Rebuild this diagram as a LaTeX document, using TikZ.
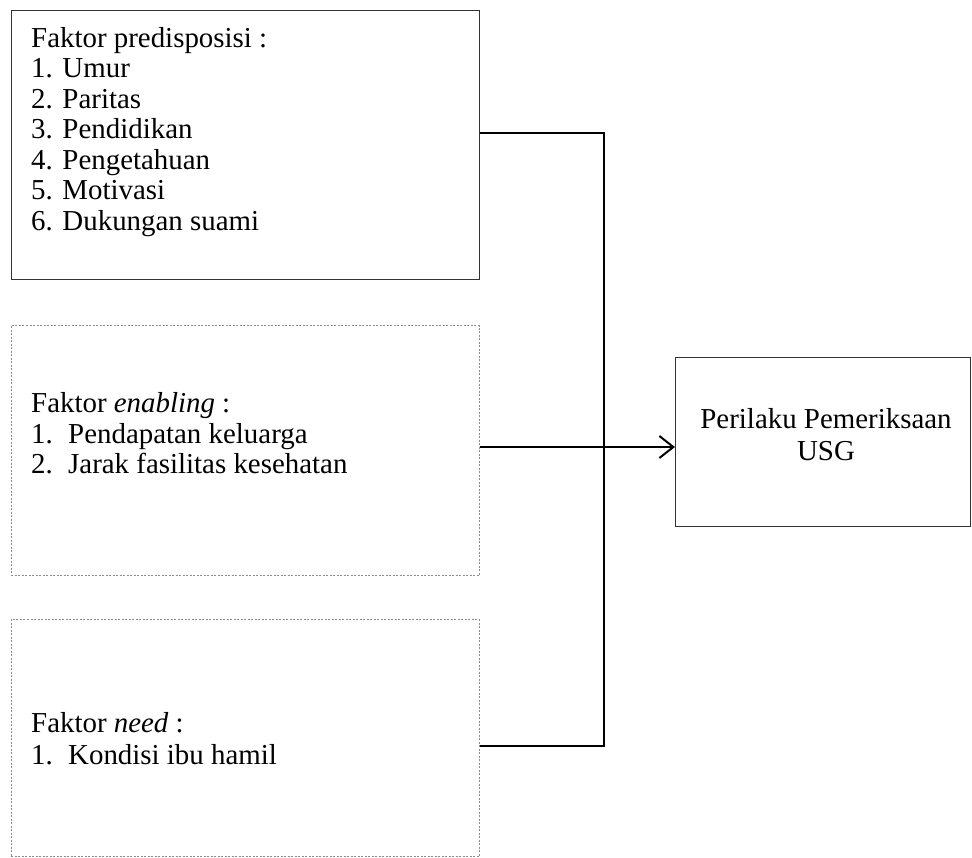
\documentclass[tikz,border=0pt]{standalone}
\usepackage{fontspec}
\setmainfont{Liberation Serif}
\usetikzlibrary{arrows.meta}
\begin{document}
\begin{tikzpicture}[x=1pt,y=-1pt,
  solidbox/.style={draw=black!80,line width=1.4pt,inner sep=0pt,anchor=north west},
  dotbox/.style={draw=black!45,line width=1pt,dash pattern=on 2pt off 1.5pt,inner sep=0pt,anchor=north west},
  txt/.style={anchor=base west,inner sep=0pt,font=\fontsize{28.9}{31}\selectfont},
  ctxt/.style={anchor=base,inner sep=0pt,font=\fontsize{28.9}{31}\selectfont},
  conn/.style={draw=black,line width=2pt}]
\useasboundingbox (0,0) rectangle (972,857);
% boxes
\node[solidbox,minimum width=468pt,minimum height=269pt] (b1) at (10.5,10) {};
\node[dotbox,minimum width=468pt,minimum height=250pt] (b2) at (10.5,325) {};
\node[dotbox,minimum width=468pt,minimum height=237pt] (b3) at (10.5,619) {};
\node[solidbox,minimum width=295pt,minimum height=169pt] (b4) at (675,357) {};
% box 1 text
\node[txt] (t10) at (31,47) {Faktor predisposisi :};
\node[txt] (t11) at (31,77.5) {1. Umur};
\node[txt] (t12) at (31,108) {2. Paritas};
\node[txt] (t13) at (31,138.5) {3. Pendidikan};
\node[txt] (t14) at (31,169) {4. Pengetahuan};
\node[txt] (t15) at (31,199.5) {5. Motivasi};
\node[txt] (t16) at (31,230) {6. Dukungan suami};
% box 2 text
\node[txt] (t20) at (31,412) {Faktor \textit{enabling} :};
\node[txt] (n21) at (31,443) {1.};
\node[txt] (t21) at (68,443) {Pendapatan keluarga};
\node[txt] (n22) at (31,473.5) {2.};
\node[txt] (t22) at (68,473.5) {Jarak fasilitas kesehatan};
% box 3 text
\node[txt] (t30) at (31,732) {Faktor \textit{need} :};
\node[txt] (n31) at (31,764) {1.};
\node[txt] (t31) at (68,764) {Kondisi ibu hamil};
% box 4 text
\node[ctxt] (t40) at (826,428) {Perilaku Pemeriksaan};
\node[ctxt] (t41) at (826,460) {USG};
% connectors
\coordinate (jtop) at (604,133);
\coordinate (jbot) at (604,746);
\coordinate (jmid) at (604,447);
\draw[conn] (b1.east|-jtop) -- (jtop) -- (jbot) -- (b3.east|-jbot);
\draw[conn,-{Straight Barb[length=14pt,width=22pt,line width=2pt]}] (b2.east|-jmid) -- (b4.west|-jmid);
\end{tikzpicture}
\end{document}
